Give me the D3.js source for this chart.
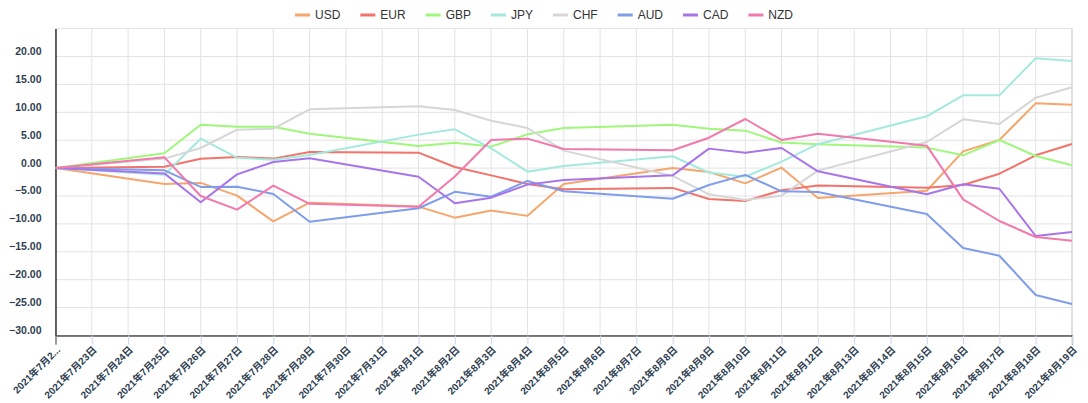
<!DOCTYPE html>
<html>
<head>
<meta charset="utf-8">
<script src="https://cdn.jsdelivr.net/npm/d3@7"></script>
<style>
  html, body { margin: 0; padding: 0; background: #fff; }
  svg { display: block; }
</style>
</head>
<body>
<svg id="chart" width="1088" height="403"></svg>
<script>
// ---- data ----
const axisDates = [
  "2021年7月22日","2021年7月23日","2021年7月24日","2021年7月25日","2021年7月26日","2021年7月27日",
  "2021年7月28日","2021年7月29日","2021年7月30日","2021年7月31日","2021年8月1日","2021年8月2日",
  "2021年8月3日","2021年8月4日","2021年8月5日","2021年8月6日","2021年8月7日","2021年8月8日",
  "2021年8月9日","2021年8月10日","2021年8月11日","2021年8月12日","2021年8月13日","2021年8月14日",
  "2021年8月15日","2021年8月16日","2021年8月17日","2021年8月18日","2021年8月19日"
];
const dataDates = [
  "2021年7月22日","2021年7月25日","2021年7月26日","2021年7月27日","2021年7月28日","2021年7月29日",
  "2021年8月1日","2021年8月2日","2021年8月3日","2021年8月4日","2021年8月5日",
  "2021年8月8日","2021年8月9日","2021年8月10日","2021年8月11日","2021年8月12日",
  "2021年8月15日","2021年8月16日","2021年8月17日","2021年8月18日","2021年8月19日"
];
const seriesNames = ["USD","EUR","GBP","JPY","CHF","AUD","CAD","NZD"];
const seriesColors = ["#f6a66c","#f3736b","#9ff77b","#a3e9de","#d6d6d6","#7f9dea","#a874ea","#f279ac"];
const USD = [0,-2.85,-2.65,-4.94,-9.54,-6.2,-6.9,-8.88,-7.6,-8.56,-2.85,0,-0.7,-2.73,0.08,-5.35,-4.06,3.0,5.04,11.6,11.37];
const EUR = [0,0.26,1.69,2.0,1.7,2.89,2.77,0.2,-1.3,-2.85,-3.8,-3.55,-5.54,-5.9,-3.98,-3.12,-3.5,-3.02,-1.0,2.29,4.32];
const GBP = [0,2.65,7.78,7.42,7.42,6.17,3.96,4.56,3.85,6.05,7.19,7.78,7.07,6.71,4.6,4.28,3.67,2.29,5.04,2.17,0.5];
const JPY = [0,-1.2,5.27,1.87,1.5,2.35,6.0,6.95,3.55,-0.64,0.38,2.12,-0.8,-1.53,1.15,4.28,9.28,13.04,13.04,19.67,19.2];
const CHF = [0,1.7,3.6,6.88,7.06,10.53,11.07,10.4,8.5,7.19,3.13,-1.4,-4.7,-5.7,-4.94,-0.45,4.68,8.74,7.9,12.62,14.5];
const AUD = [0,-0.4,-3.38,-3.33,-4.64,-9.61,-7.2,-4.25,-5.12,-2.3,-4.16,-5.5,-3.03,-1.22,-4.16,-4.28,-8.23,-14.32,-15.7,-22.74,-24.35];
const CAD = [0,-0.95,-6.13,-1.12,1.1,1.75,-1.55,-6.31,-5.3,-2.96,-2.13,-1.3,3.49,2.77,3.6,-0.58,-4.7,-2.9,-3.7,-12.17,-11.45];
const NZD = [0,1.93,-5.0,-7.45,-3.15,-6.4,-6.91,-1.5,5.04,5.28,3.43,3.19,5.45,8.8,5.04,6.17,4.02,-5.6,-9.48,-12.35,-13.0];
const seriesValues = [USD, EUR, GBP, JPY, CHF, AUD, CAD, NZD];
const yTicks = [-30,-25,-20,-15,-10,-5,0,5,10,15,20];

// ---- layout ----
const svg = d3.select("#chart");
const plotL = 55.5, plotR = 1072, plotT = 28.6, plotB = 335.5;
const x = d3.scalePoint().domain(axisDates).range([plotL, plotR]);
const y = d3.scaleLinear().domain([-30, 25]).range([plotB, plotT]);
const textColor = "#2f3f52";

// grid
const grid = svg.append("g");
grid.selectAll("line.v").data(axisDates).join("line")
  .attr("x1", d => x(d)).attr("x2", d => x(d))
  .attr("y1", plotT).attr("y2", plotB)
  .attr("stroke", "#e3e3e3").attr("stroke-width", 1);
grid.selectAll("line.h").data(yTicks.concat([25])).join("line")
  .attr("x1", plotL).attr("x2", plotR)
  .attr("y1", d => y(d)).attr("y2", d => y(d))
  .attr("stroke", "#e3e3e3").attr("stroke-width", 1);
svg.append("line").attr("x1", plotR).attr("x2", plotR).attr("y1", plotT).attr("y2", plotB)
  .attr("stroke", "#cfcfcf");

// y axis
const yAxis = d3.axisLeft(y).tickValues(yTicks).tickFormat(d3.format(".2f")).tickSize(0).tickPadding(14);
const gy = svg.append("g").attr("transform", `translate(${plotL},0)`).call(yAxis);
gy.select(".domain").attr("stroke", "#000").attr("stroke-width", 1.2);
gy.selectAll("text").attr("font-family", "Arial, 'Liberation Sans', sans-serif")
  .attr("font-size", 10.5).attr("font-weight", "bold").attr("fill", textColor)
  .attr("dy", "-0.2em");

// x axis
const xAxis = d3.axisBottom(x).tickSize(9).tickPadding(0)
  .tickFormat((d, i) => i === 0 ? "2021年7月2..." : d);
const gx = svg.append("g").attr("transform", `translate(0,${plotB})`).call(xAxis);
gx.select(".domain").attr("stroke", "#000").attr("stroke-width", 1.2);
gx.selectAll(".tick line").attr("stroke", "#c9d5e6");
gx.selectAll("text")
  .attr("font-family", "Arial, 'Liberation Sans', 'Noto Sans CJK SC', sans-serif")
  .attr("font-size", 10).attr("font-weight", "bold").attr("fill", textColor)
  .attr("text-anchor", "end")
  .attr("y", 0).attr("dy", 0)
  .attr("transform", "translate(5,15) rotate(-45)");

// lines
const line = d3.line().x(d => x(d[0])).y(d => y(d[1]));
seriesNames.forEach((name, i) => {
  const pts = dataDates.map((dt, j) => [dt, seriesValues[i][j]]);
  svg.append("path").datum(pts)
    .attr("fill", "none").attr("stroke", seriesColors[i]).attr("stroke-width", 2)
    .attr("stroke-linejoin", "round")
    .attr("d", line);
});

// legend
const legend = svg.append("g");
let lx = 0;
seriesNames.forEach((name, i) => {
  const g = legend.append("g").attr("transform", `translate(${lx},0)`);
  g.append("line").attr("x1", 0).attr("x2", 15).attr("y1", 0).attr("y2", 0)
    .attr("stroke", seriesColors[i]).attr("stroke-width", 3);
  const t = g.append("text").attr("x", 20).attr("y", 0).attr("dy", "0.35em")
    .attr("font-family", "Arial, 'Liberation Sans', sans-serif").attr("font-size", 12)
    .attr("fill", "#333").text(name);
  lx += 20 + t.node().getComputedTextLength() + 20;
});
const lw = lx - 20;
legend.attr("transform", `translate(${(1088 - lw) / 2},15)`);
</script>
</body>
</html>
